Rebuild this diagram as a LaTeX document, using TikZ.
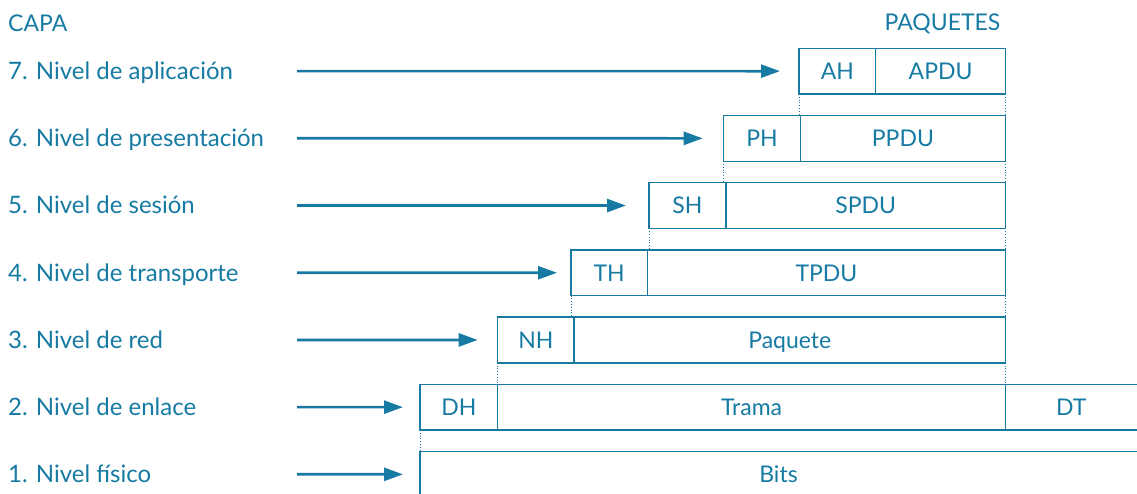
\documentclass[tikz,border=0pt]{standalone}
\usepackage{fontspec}
\setmainfont{Lato}
\usetikzlibrary{arrows.meta,calc}
\definecolor{osiblue}{RGB}{22,122,163}
\begin{document}
\begin{tikzpicture}[x=1pt,y=-1pt,
  font=\fontsize{23}{27}\selectfont,
  every node/.style={text=osiblue},
  cell/.style={draw=osiblue, line width=1.4pt, rectangle, inner sep=0pt, outer sep=0pt,
    minimum height=45.7pt, text height=16.5pt, text depth=0pt, anchor=north west},
  opencell/.style={cell, draw=none},
  edge/.style={draw=osiblue, line width=1.4pt},
  layer/.style={anchor=base west, inner sep=0pt, font=\fontsize{24}{28}\selectfont},
  flow/.style={draw=osiblue, line width=2.7pt, -{Triangle[length=19pt,width=13pt]}},
  gapline/.style={draw=osiblue, line width=1pt, dash pattern=on 1pt off 1.8pt}]
\useasboundingbox (0,0) rectangle (1137,493);
\clip (0,0) rectangle (1137,493);

% headings
\node[anchor=base west, inner sep=0pt] (capa) at (8,31.5) {CAPA};
\node[anchor=base, inner sep=0pt] (paq) at (942.5,30.7) {PAQUETES};

% layer names
\node[layer] (l7) at (8,79.4)  {7. Nivel de aplicación};
\node[layer] (l6) at (8,146.6) {6. Nivel de presentación};
\node[layer] (l5) at (8,213.8) {5. Nivel de sesión};
\node[layer] (l4) at (8,281.0) {4. Nivel de transporte};
\node[layer] (l3) at (8,348.2) {3. Nivel de red};
\node[layer] (l2) at (8,415.4) {2. Nivel de enlace};
\node[layer] (l1) at (8,482.6) {1. Nivel físico};

% packet cells
\node[cell, minimum width=76.7pt] (ah) at (799,48.3) {AH};
\node[cell, minimum width=129.8pt] (apdu) at (ah.north east) {APDU};

\node[cell, minimum width=76.6pt] (ph) at (723.7,115.5) {PH};
\node[cell, minimum width=205.2pt] (ppdu) at (ph.north east) {PPDU};

\node[cell, minimum width=77pt] (sh) at (649,182.7) {SH};
\node[cell, minimum width=279.5pt] (spdu) at (sh.north east) {SPDU};

\node[cell, minimum width=76.3pt] (th) at (571,249.9) {TH};
\node[cell, minimum width=358.2pt] (tpdu) at (th.north east) {TPDU};

\node[cell, minimum width=76.3pt] (nh) at (497.7,317.1) {NH};
\node[cell, minimum width=431.5pt] (paquete) at (nh.north east) {Paquete};

\node[cell, minimum width=77.7pt] (dh) at (420,384.3) {DH};
\node[cell, minimum width=507.8pt] (trama) at (dh.north east) {Trama};
\node[opencell, minimum width=131.5pt] (dt) at (trama.north east) {DT};
\draw[edge] ([xshift=4pt]dt.north east) -- (dt.north west) -- (dt.south west) -- ([xshift=4pt]dt.south east);

\node[opencell, minimum width=717pt] (bits) at (420,451.5) {Bits};
\draw[edge] ([yshift=-6pt]bits.south west) -- (bits.north west) -- ([xshift=4pt]bits.north east);

% arrows from each layer to its packet
\coordinate (s7) at (297,71.1);
\coordinate (s6) at (297,138.3);
\coordinate (s5) at (297,205.5);
\coordinate (s4) at (297,272.7);
\coordinate (s3) at (297,339.9);
\coordinate (s2) at (297,407.1);
\coordinate (s1) at (297,474.3);
\draw[flow] (s7) -- ([xshift=-19pt]ah.west);
\draw[flow] (s6) -- ([xshift=-21pt]ph.west);
\draw[flow] (s5) -- ([xshift=-23pt]sh.west);
\draw[flow] (s4) -- ([xshift=-14pt]th.west);
\draw[flow] (s3) -- ([xshift=-20pt]nh.west);
\draw[flow] (s2) -- ([xshift=-17pt]dh.west);
\draw[flow] (s1) -- ([xshift=-17pt]bits.west);

% dotted guides between consecutive packets
\draw[gapline] (ah.south west) -- (ah.south west |- ppdu.north);
\draw[gapline] (apdu.south east) -- (apdu.south east |- ppdu.north);
\draw[gapline] (ph.south west) -- (ph.south west |- spdu.north);
\draw[gapline] (ppdu.south east) -- (ppdu.south east |- spdu.north);
\draw[gapline] (sh.south west) -- (sh.south west |- tpdu.north);
\draw[gapline] (spdu.south east) -- (spdu.south east |- tpdu.north);
\draw[gapline] (th.south west) -- (th.south west |- paquete.north);
\draw[gapline] (tpdu.south east) -- (tpdu.south east |- paquete.north);
\draw[gapline] (nh.south west) -- (nh.south west |- trama.north);
\draw[gapline] (paquete.south east) -- (paquete.south east |- trama.north);
\draw[gapline] (dh.south west) -- (dh.south west |- bits.north);
\end{tikzpicture}
\end{document}
